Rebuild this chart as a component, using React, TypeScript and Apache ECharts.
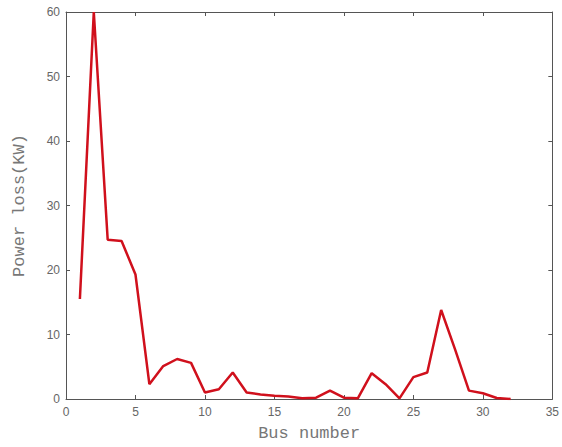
import React, { useEffect, useRef } from "react";
import * as echarts from "echarts";

const busNumbers = [1,2,3,4,5,6,7,8,9,10,11,12,13,14,15,16,17,18,19,20,21,22,23,24,25,26,27,28,29,30,31,32];
const powerLoss = [15.5,60,24.7,24.5,19.3,2.3,5.1,6.2,5.6,1.0,1.5,4.1,1.0,0.7,0.5,0.4,0.1,0.2,1.3,0.2,0.1,4.0,2.3,0.1,3.4,4.1,13.8,7.7,1.3,0.9,0.15,0];
const xTitle = "Bus number";
const yTitle = "Power loss(KW)";

export default function App() {
  const ref = useRef<HTMLDivElement>(null);
  useEffect(() => {
    if (!ref.current) return;
    const chart = echarts.init(ref.current, null, { renderer: "svg" });
    const axisLine = { show: true, onZero: false, lineStyle: { color: "#555", width: 1 } };
    const tick = { show: true, inside: true, length: 4, lineStyle: { color: "#555" } };
    const label = { color: "#666", fontSize: 12, fontFamily: "Liberation Sans, Arial, sans-serif" };
    chart.setOption({
      animation: false,
      backgroundColor: "#fff",
      grid: { left: 66, right: 6, top: 12, bottom: 47, containLabel: false },
      xAxis: [
        {
          type: "value", min: 0, max: 35, interval: 5, position: "bottom",
          axisLine, axisTick: tick, splitLine: { show: false },
          axisLabel: { ...label, margin: 7 },
          name: xTitle, nameLocation: "middle", nameGap: 26,
          nameTextStyle: { color: "#777", fontSize: 17, fontFamily: "Liberation Mono, Courier New, monospace" },
        },
        {
          type: "value", min: 0, max: 35, interval: 5, position: "top",
          axisLine, axisTick: tick, splitLine: { show: false }, axisLabel: { show: false },
        },
      ],
      yAxis: [
        {
          type: "value", min: 0, max: 60, interval: 10, position: "left",
          axisLine, axisTick: tick, splitLine: { show: false },
          axisLabel: { ...label, margin: 6 },
          name: yTitle, nameLocation: "middle", nameGap: 38,
          nameTextStyle: { color: "#777", fontSize: 17, fontFamily: "Liberation Mono, Courier New, monospace" },
        },
        {
          type: "value", min: 0, max: 60, interval: 10, position: "right",
          axisLine, axisTick: tick, splitLine: { show: false }, axisLabel: { show: false },
        },
      ],
      series: [
        {
          type: "line",
          data: busNumbers.map((b, i) => [b, powerLoss[i]]),
          xAxisIndex: 0, yAxisIndex: 0,
          showSymbol: false, symbol: "none",
          lineStyle: { color: "#d0101c", width: 2.5 },
        },
      ],
    });
    return () => chart.dispose();
  }, []);
  return <div ref={ref} style={{ position: "fixed", left: 0, top: 0, width: 562, height: 447 }} />;
}
